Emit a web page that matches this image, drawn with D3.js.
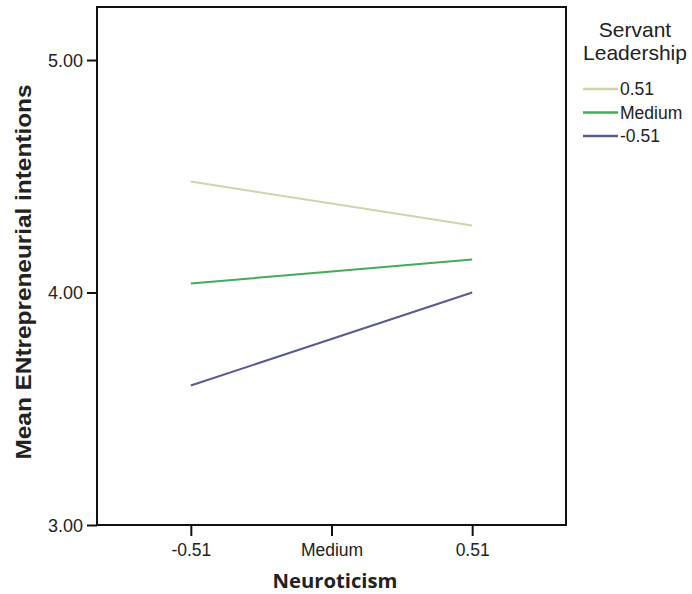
<!DOCTYPE html>
<html>
<head>
<meta charset="utf-8">
<script src="https://cdn.jsdelivr.net/npm/d3@7"></script>
<style>
  body { margin: 0; background: #fff; }
  text { font-family: "Liberation Sans", Arial, sans-serif; fill: #222; }
</style>
</head>
<body>
<div id="chart"></div>
<script>
// neuroticism levels on x
const categories = ['-0.51', 'Medium', '0.51'];
// servant leadership groups (legend order)
const groups = ['0.51', 'Medium', '-0.51'];
const highSL = [4.477, 4.383, 4.288];
const medSL = [4.039, 4.090, 4.142];
const lowSL = [3.600, 3.800, 4.000];
const yTicks = [3, 4, 5];

const series = [
    {name: groups[0], values: highSL, color: '#d2d2ae'},
    {name: groups[1], values: medSL, color: '#45aa5c'},
    {name: groups[2], values: lowSL, color: '#565b90'}
];

const width = 692, height = 594;
const margin = {left: 97, top: 7, right: 126, bottom: 69};

const svg = d3.select('#chart').append('svg')
    .attr('width', width)
    .attr('height', height);

const x = d3.scalePoint()
    .domain(categories)
    .range([margin.left, width - margin.right])
    .padding(0.667);

const y = d3.scaleLinear()
    .domain([3, 5.228])
    .range([height - margin.bottom, margin.top]);

// frame
svg.append('rect')
    .attr('x', margin.left)
    .attr('y', margin.top)
    .attr('width', width - margin.left - margin.right)
    .attr('height', height - margin.top - margin.bottom)
    .attr('fill', 'none')
    .attr('stroke', '#111')
    .attr('stroke-width', 2);

// y axis
const yAxis = svg.append('g')
    .attr('transform', `translate(${margin.left},0)`)
    .call(d3.axisLeft(y).tickValues(yTicks).tickFormat(d3.format('.2f')).tickSize(10).tickPadding(4));
yAxis.select('.domain').remove();
yAxis.selectAll('line').attr('stroke', '#111').attr('stroke-width', 2);
yAxis.selectAll('text').style('font-size', '18px').attr('fill', '#222').attr('dy', '0.36em');

// x axis
const xAxis = svg.append('g')
    .attr('transform', `translate(0,${height - margin.bottom})`)
    .call(d3.axisBottom(x).tickSize(11).tickPadding(8));
xAxis.select('.domain').remove();
xAxis.selectAll('line').attr('stroke', '#111').attr('stroke-width', 2);
xAxis.selectAll('text').style('font-size', '17.5px').attr('fill', '#222');

// lines
const line = d3.line()
    .x((d, i) => x(categories[i]))
    .y(d => y(d));

svg.append('g').selectAll('path')
    .data(series)
    .join('path')
    .attr('d', d => line(d.values))
    .attr('fill', 'none')
    .attr('stroke', d => d.color)
    .attr('stroke-width', 2);

// axis titles
svg.append('text')
    .attr('x', 335)
    .attr('y', 588)
    .attr('text-anchor', 'middle')
    .attr('textLength', 125)
    .attr('lengthAdjust', 'spacingAndGlyphs')
    .style('font-family', '"Open Sans", sans-serif')
    .style('font-size', '19px')
    .style('font-weight', 'bold')
    .text('Neuroticism');

svg.append('text')
    .attr('transform', `translate(31,272) rotate(-90)`)
    .attr('text-anchor', 'middle')
    .attr('textLength', 375)
    .attr('lengthAdjust', 'spacingAndGlyphs')
    .style('font-size', '22px')
    .style('font-weight', 'bold')
    .text('Mean ENtrepreneurial intentions');

// legend
const legend = svg.append('g');
legend.append('text')
    .attr('x', 635).attr('y', 37)
    .attr('text-anchor', 'middle')
    .style('font-size', '21px')
    .text('Servant');
legend.append('text')
    .attr('x', 635).attr('y', 60)
    .attr('text-anchor', 'middle')
    .style('font-size', '21px')
    .text('Leadership');

const item = legend.selectAll('g.item')
    .data(series)
    .join('g')
    .attr('class', 'item')
    .attr('transform', (d, i) => `translate(583,${89 + i * 23.5})`);
item.append('line')
    .attr('x1', 0).attr('x2', 35)
    .attr('stroke', d => d.color)
    .attr('stroke-width', 2.5);
item.append('text')
    .attr('x', 37).attr('y', 6)
    .style('font-size', '17.5px')
    .text(d => d.name);
</script>
</body>
</html>
